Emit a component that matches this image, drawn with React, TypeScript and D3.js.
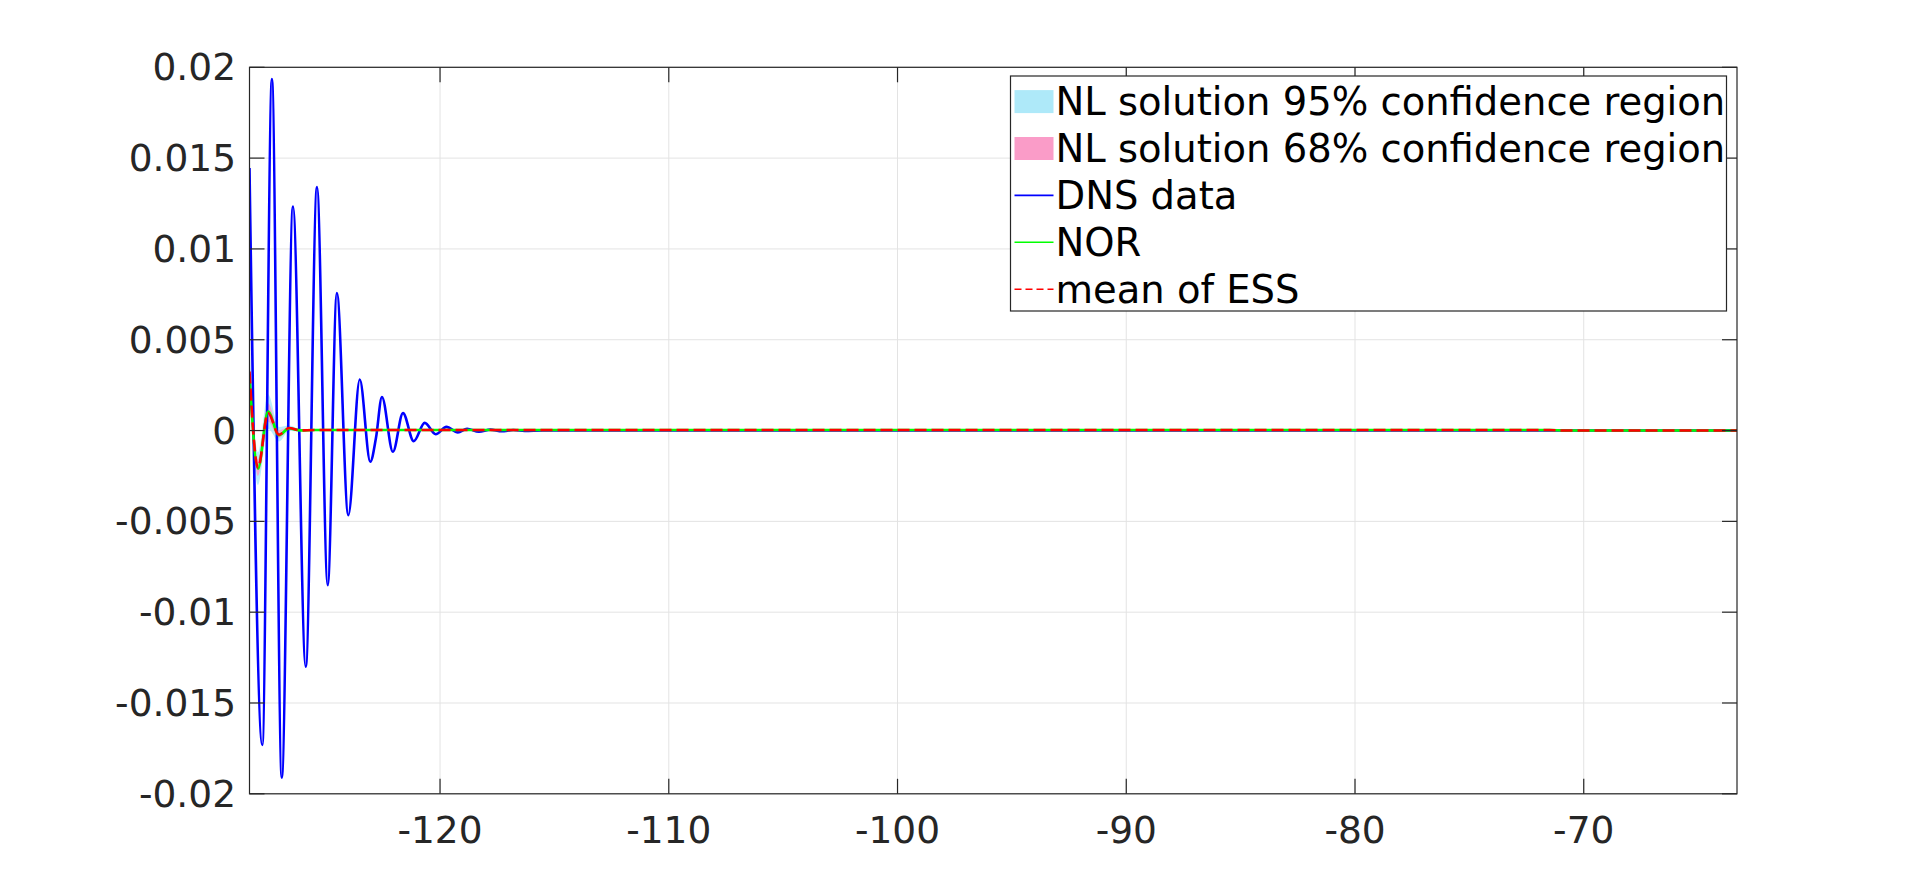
import React from 'react';
import * as d3 from 'd3';

// ---- data ----
const xDomain: [number, number] = [-128.33, -63.3];
const yDomain: [number, number] = [-0.02, 0.02];
const xTicks = [-120, -110, -100, -90, -80, -70];
const xTickLabels = ['-120', '-110', '-100', '-90', '-80', '-70'];
const yTicks = [-0.02, -0.015, -0.01, -0.005, 0, 0.005, 0.01, 0.015, 0.02];
const yTickLabels = ['-0.02', '-0.015', '-0.01', '-0.005', '0', '0.005', '0.01', '0.015', '0.02'];

// DNS data (extrema of the damped oscillation)
const dnsX = [-128.33, -127.77, -127.35, -126.92, -126.43, -125.87, -125.38, -124.91, -124.51, -124.01,
  -123.51, -123.05, -122.8, -122.54, -122.06, -121.62, -121.15, -120.67, -120.19, -119.72, -119.22,
  -118.82, -118.3, -117.8, -117.3, -116.8, -116.3, -115.5, -110, -100, -90, -80, -72, -63.3];
const dnsY = [0.01445, -0.01731, 0.01935, -0.01911, 0.01234, -0.013, 0.0134, -0.00851, 0.00757, -0.00466,
  0.00281, -0.00172, -0.0004, 0.00185, -0.00117, 0.00096, -0.00059, 0.00042, -0.0002, 0.0002, -0.0001,
  0.0001, -0.00006, 0.00005, -0.00004, 0.00003, -0.00002, 0.00001, 0, 0, 0, 0, 0, 0];

// NOR
const norX = [-128.33, -127.96, -127.52, -127.04, -126.6, -126.1, -125.5, -71.5, -70.8, -63.3];
const norY = [0.003, -0.0021, 0.00105, -0.00025, 0.00012, 0.00001, 0.00003, 0.00003, 0, 0];

// mean of ESS
const essX = [-128.33, -127.96, -127.52, -127.04, -126.6, -126.1, -125.5, -71.5, -70.8, -63.3];
const essY = [0.00325, -0.00205, 0.00097, -0.00023, 0.00014, 0.00001, 0.00003, 0.00003, 0, 0];

// NL solution confidence regions
const bandX = [-128.33, -127.96, -127.52, -127.04, -126.6, -126.1, -125.5, -100, -63.3];
const hi95 = [0.0045, -0.0012, 0.002, 0.0002, 0.00028, 0.00008, 0.00006, 0.00004, 0.00003];
const lo95 = [0.002, -0.003, 0.0001, -0.0006, -0.00002, -0.00006, -0.00002, -0.00001, -0.00001];
const hi68 = [0.004, -0.0016, 0.0015, 0.00002, 0.0002, 0.00004, 0.00004, 0.00003, 0.00002];
const lo68 = [0.0027, -0.0025, 0.0005, -0.0004, 0.00006, -0.00003, 0.0, 0.0, 0.0];

const legendLabels = [
  'NL solution 95% confidence region',
  'NL solution 68% confidence region',
  'DNS data',
  'NOR',
  'mean of ESS',
];

// ---- styles ----
const W = 1920;
const H = 893;
const plot = { left: 249.5, right: 1737, top: 67.3, bottom: 793.8 };
const axisColor = '#262626';
const gridColor = '#e3e3e3';
const FONT = 'DejaVu Sans, sans-serif';

export default function App() {
  const x = d3.scaleLinear().domain(xDomain).range([plot.left, plot.right]);
  const y = d3.scaleLinear().domain(yDomain).range([plot.bottom, plot.top]);

  const line = (xs: number[], ys: number[]) =>
    d3.line<number>()
      .x((_, i) => x(xs[i]))
      .y((d) => y(d))
      .curve(d3.curveMonotoneX)(ys) || '';

  const area = (xs: number[], lo: number[], hi: number[]) =>
    d3.area<number>()
      .x((_, i) => x(xs[i]))
      .y0((_, i) => y(lo[i]))
      .y1((_, i) => y(hi[i]))
      .curve(d3.curveMonotoneX)(xs.map((_, i) => i)) || '';

  const tickLen = 15;

  // legend geometry
  const lg = { x: 1010.5, y: 76, w: 716, h: 235 };
  const rowY = (i: number) => lg.y + 25.6 + i * 46.9;
  const swX0 = lg.x + 4;
  const swX1 = lg.x + 43;
  const textX = lg.x + 45;

  return (
    <svg width={W} height={H} style={{ position: 'absolute', left: 0, top: 0, background: '#fff' }}>
      <rect x={0} y={0} width={W} height={H} fill="#fff" />
      <clipPath id="plotclip">
        <rect x={plot.left} y={plot.top} width={plot.right - plot.left} height={plot.bottom - plot.top} />
      </clipPath>
      {/* grid */}
      <g stroke={gridColor} strokeWidth={1}>
        {xTicks.map((t) => (
          <line key={'gx' + t} x1={x(t)} x2={x(t)} y1={plot.top} y2={plot.bottom} />
        ))}
        {yTicks.map((t) => (
          <line key={'gy' + t} x1={plot.left} x2={plot.right} y1={y(t)} y2={y(t)} />
        ))}
      </g>
      {/* data */}
      <g clipPath="url(#plotclip)">
        <path d={area(bandX, lo95, hi95)} fill="#aee9f9" fillOpacity={0.85} stroke="none" />
        <path d={area(bandX, lo68, hi68)} fill="#fa9cc8" fillOpacity={0.85} stroke="none" />
        <path d={line(dnsX, dnsY)} fill="none" stroke="#0000ff" strokeWidth={2.6} />
        <path d={line(norX, norY)} fill="none" stroke="#00ff00" strokeWidth={2.6} />
        <path d={line(essX, essY)} fill="none" stroke="#ff0000" strokeWidth={2.6} strokeDasharray="12,5" />
      </g>
      {/* axes box */}
      <rect x={plot.left} y={plot.top} width={plot.right - plot.left} height={plot.bottom - plot.top}
        fill="none" stroke={axisColor} strokeWidth={1.2} />
      {/* ticks */}
      <g stroke={axisColor} strokeWidth={1.2}>
        {xTicks.map((t) => (
          <g key={'tx' + t}>
            <line x1={x(t)} x2={x(t)} y1={plot.bottom} y2={plot.bottom - tickLen} />
            <line x1={x(t)} x2={x(t)} y1={plot.top} y2={plot.top + tickLen} />
          </g>
        ))}
        {yTicks.map((t) => (
          <g key={'ty' + t}>
            <line x1={plot.left} x2={plot.left + tickLen} y1={y(t)} y2={y(t)} />
            <line x1={plot.right} x2={plot.right - tickLen} y1={y(t)} y2={y(t)} />
          </g>
        ))}
      </g>
      {/* tick labels */}
      <g fill={axisColor} fontFamily={FONT} fontSize={37.5}>
        {xTicks.map((t, i) => (
          <text key={'lx' + t} x={x(t)} y={843} textAnchor="middle">{xTickLabels[i]}</text>
        ))}
        {yTicks.map((t, i) => (
          <text key={'ly' + t} x={236} y={y(t)} textAnchor="end" dominantBaseline="central">{yTickLabels[i]}</text>
        ))}
      </g>
      {/* legend */}
      <g>
        <rect x={lg.x} y={lg.y} width={lg.w} height={lg.h} fill="#fff" stroke={axisColor} strokeWidth={1.2} />
        <rect x={swX0} y={rowY(0) - 11.5} width={swX1 - swX0} height={23} fill="#aee9f9" />
        <rect x={swX0} y={rowY(1) - 11.5} width={swX1 - swX0} height={23} fill="#fa9cc8" />
        <line x1={swX0} x2={swX1} y1={rowY(2)} y2={rowY(2)} stroke="#0000ff" strokeWidth={1.6} />
        <line x1={swX0} x2={swX1} y1={rowY(3)} y2={rowY(3)} stroke="#00ff00" strokeWidth={1.6} />
        <line x1={swX0} x2={swX1} y1={rowY(4)} y2={rowY(4)} stroke="#ff0000" strokeWidth={1.6} strokeDasharray="7,4" />
        <g fill="#000" fontFamily={FONT} fontSize={38.5}>
          {legendLabels.map((l, i) => (
            <text key={l} x={textX} y={rowY(i)} dominantBaseline="central">{l}</text>
          ))}
        </g>
      </g>
    </svg>
  );
}
